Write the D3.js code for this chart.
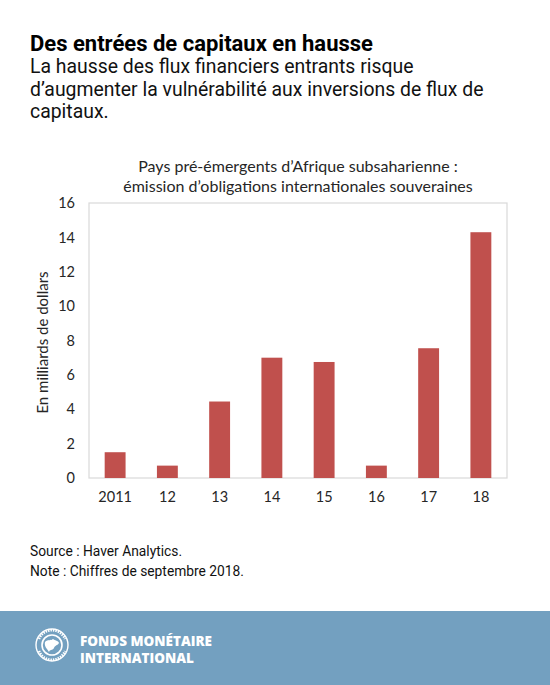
<!DOCTYPE html>
<html>
<head>
<meta charset="utf-8">
<script src="https://cdn.jsdelivr.net/npm/d3@7"></script>
<style>
  body { margin: 0; background: #fff; }
  svg { display: block; }
</style>
</head>
<body>
<div id="chart"></div>
<script>
// Data
var years = ["2011", "12", "13", "14", "15", "16", "17", "18"];
var issuance = [1.5, 0.72, 4.45, 7.0, 6.75, 0.72, 7.55, 14.3];
var yTicks = [0, 2, 4, 6, 8, 10, 12, 14, 16];

var width = 550;
var height = 685;
var plot = { left: 89, right: 507, top: 203, bottom: 478 };
var chartFont = "Lato, 'Open Sans', sans-serif";
var headFont = "Roboto, 'Noto Sans', sans-serif";

var svg = d3.select("#chart")
    .append("svg")
    .attr("width", width)
    .attr("height", height);

// Header
svg.append("text")
    .attr("x", 30)
    .attr("y", 51)
    .attr("font-family", headFont)
    .attr("font-weight", "bold")
    .attr("font-size", 22)
    .attr("fill", "#000")
    .text("Des entrées de capitaux en hausse");

var subLines = [
    "La hausse des flux financiers entrants risque",
    "d’augmenter la vulnérabilité aux inversions de flux de",
    "capitaux."
];
svg.append("g").selectAll("text")
    .data(subLines)
    .enter().append("text")
    .attr("x", 30)
    .attr("y", function(d, i){ return 73 + i * 22.5; })
    .attr("font-family", headFont)
    .attr("font-size", 19.4)
    .attr("fill", "#111")
    .text(function(d){ return d; });

// Chart title
var titleLines = [
    "Pays pré-émergents d’Afrique subsaharienne :",
    "émission d’obligations internationales souveraines"
];
svg.append("g").selectAll("text")
    .data(titleLines)
    .enter().append("text")
    .attr("x", (plot.left + plot.right) / 2)
    .attr("y", function(d, i){ return 172 + i * 20; })
    .attr("text-anchor", "middle")
    .attr("font-family", chartFont)
    .attr("font-size", 16)
    .attr("fill", "#262626")
    .text(function(d){ return d; });

// Scales
var x = d3.scaleBand()
    .domain(years)
    .range([plot.left, plot.right])
    .paddingInner(0.6)
    .paddingOuter(0.3);

var y = d3.scaleLinear()
    .domain([0, 16])
    .range([plot.bottom, plot.top]);

// Plot frame
svg.append("rect")
    .attr("x", plot.left)
    .attr("y", plot.top)
    .attr("width", plot.right - plot.left)
    .attr("height", plot.bottom - plot.top)
    .attr("fill", "none")
    .attr("stroke", "#d9d9d9")
    .attr("stroke-width", 1.2);

// Bars
svg.append("g").selectAll("rect")
    .data(issuance)
    .enter().append("rect")
    .attr("x", function(d, i){ return x(years[i]); })
    .attr("y", function(d){ return y(d); })
    .attr("width", x.bandwidth())
    .attr("height", function(d){ return y(0) - y(d); })
    .attr("fill", "#c0504d");

// Axes
var yAxis = d3.axisLeft(y).tickValues(yTicks).tickSize(0).tickPadding(14);
var gy = svg.append("g")
    .attr("transform", `translate(${plot.left}, 0)`)
    .call(yAxis);
gy.select(".domain").remove();
gy.selectAll("text")
    .attr("font-family", chartFont)
    .attr("font-size", 14.5)
    .attr("fill", "#262626");

var xAxis = d3.axisBottom(x).tickSize(0).tickPadding(14);
var gx = svg.append("g")
    .attr("transform", `translate(0, ${plot.bottom})`)
    .call(xAxis);
gx.select(".domain").remove();
gx.selectAll("text")
    .attr("font-family", chartFont)
    .attr("font-size", 14.5)
    .attr("fill", "#262626");

// Y axis title
svg.append("text")
    .attr("transform", `translate(48, ${(plot.top + plot.bottom) / 2 + 2}) rotate(-90)`)
    .attr("text-anchor", "middle")
    .attr("font-family", chartFont)
    .attr("font-size", 15)
    .attr("fill", "#262626")
    .text("En milliards de dollars");

// Notes
var notes = ["Source : Haver Analytics.", "Note : Chiffres de septembre 2018."];
svg.append("g").selectAll("text")
    .data(notes)
    .enter().append("text")
    .attr("x", 30)
    .attr("y", function(d, i){ return 556 + i * 19.5; })
    .attr("font-family", headFont)
    .attr("font-size", 13.8)
    .attr("fill", "#111")
    .text(function(d){ return d; });

// Footer band
svg.append("rect")
    .attr("x", 0)
    .attr("y", 611)
    .attr("width", width)
    .attr("height", height - 611)
    .attr("fill", "#73a0c0");

// Logo (simplified seal)
var logo = svg.append("g").attr("transform", "translate(52, 645)");
logo.append("circle").attr("r", 16).attr("fill", "none").attr("stroke", "#fff").attr("stroke-width", 1.4);
logo.append("circle").attr("r", 10).attr("fill", "none").attr("stroke", "#fff").attr("stroke-width", 1.6);
logo.append("path")
    .attr("d", "M-7,-3 C-4,-6 -1,-4 1,-6 C3,-4 6,-5 7,-2 C5,1 3,0 2,3 C0,6 -2,4 -3,7 C-5,3 -8,2 -7,-3 Z")
    .attr("fill", "#fff");
logo.append("path")
    .attr("d", "M-13,-6 A14,14 0 0,1 13,-6")
    .attr("fill", "none")
    .attr("stroke", "#fff")
    .attr("stroke-width", 2.5)
    .attr("stroke-dasharray", "1.5,1");
logo.append("path")
    .attr("d", "M-13,6 A14,14 0 0,0 13,6")
    .attr("fill", "none")
    .attr("stroke", "#fff")
    .attr("stroke-width", 2.5)
    .attr("stroke-dasharray", "1.5,1");

svg.append("g").selectAll("text")
    .data(["FONDS MONÉTAIRE", "INTERNATIONAL"])
    .enter().append("text")
    .attr("x", 80)
    .attr("y", function(d, i){ return 646 + i * 17; })
    .attr("font-family", "'Open Sans', sans-serif")
    .attr("font-weight", "800")
    .attr("font-size", 13.5)
    .attr("fill", "#fff")
    .text(function(d){ return d; });
</script>
</body>
</html>
